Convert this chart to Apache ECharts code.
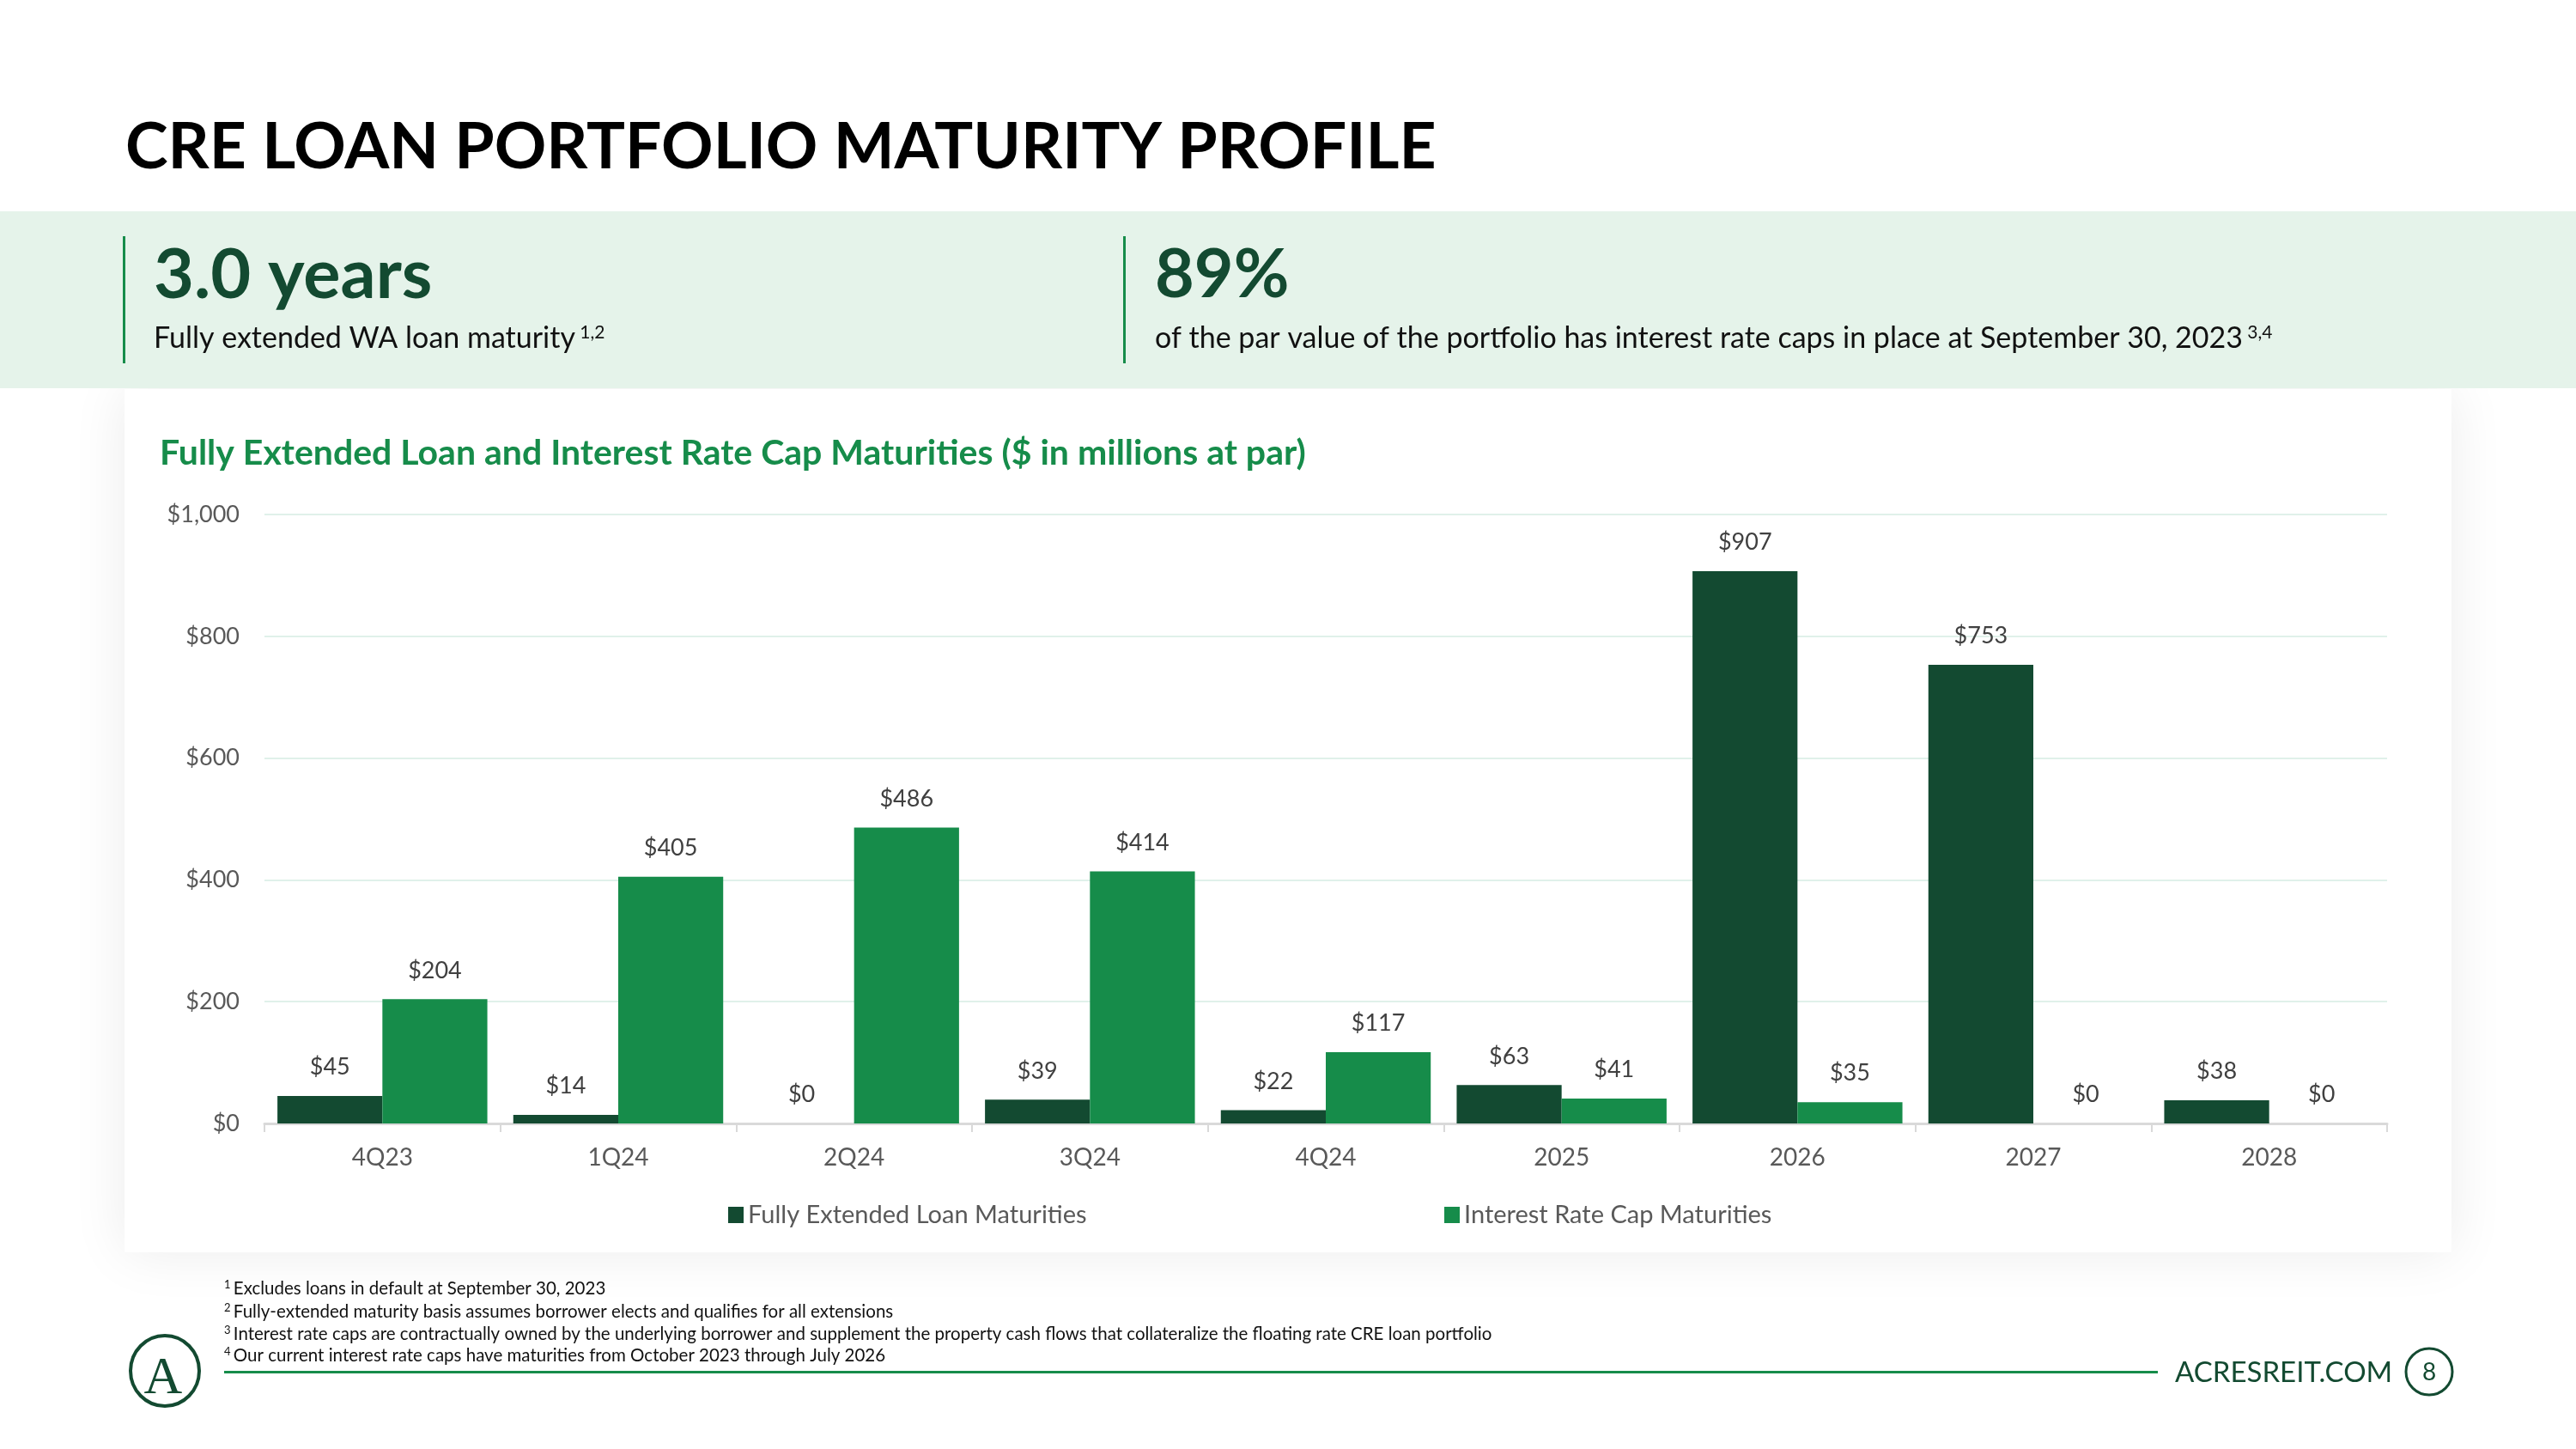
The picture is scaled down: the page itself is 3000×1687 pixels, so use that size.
<!DOCTYPE html>
<html>
<head>
<meta charset="utf-8">
<script src="https://cdn.jsdelivr.net/npm/echarts@6/dist/echarts.min.js"></script>
<style>
html, body { margin: 0; padding: 0; background: #ffffff; }
#bg-card { position: absolute; left: 145px; top: 453px; width: 2710px; height: 1005px; background: #ffffff; box-shadow: 0 0 60px rgba(0,0,0,0.08); }
#bg-band { position: absolute; left: 0; top: 246px; width: 3000px; height: 206px; background: #E5F3EA; }
#chart { position: absolute; left: 0; top: 0; width: 3000px; height: 1687px; }
</style>
</head>
<body>
<div id="bg-card"></div>
<div id="bg-band"></div>
<div id="chart"></div>
<script>
// ---- data ----
const categories = ['4Q23', '1Q24', '2Q24', '3Q24', '4Q24', '2025', '2026', '2027', '2028'];
const loanMaturities = [45, 14, 0, 39, 22, 63, 907, 753, 38];
const capMaturities = [204, 405, 486, 414, 117, 41, 35, 0, 0];
const seriesNames = ['Fully Extended Loan Maturities', 'Interest Rate Cap Maturities'];
const yMin = 0, yMax = 1000, yInterval = 200;

const pageTitle = 'CRE LOAN PORTFOLIO MATURITY PROFILE';
const chartTitle = 'Fully Extended Loan and Interest Rate Cap Maturities ($ in millions at par)';
const stat1Value = '3.0 years';
const stat1Text = 'Fully extended WA loan maturity';
const stat1Sup = '1,2';
const stat2Value = '89%';
const stat2Text = 'of the par value of the portfolio has interest rate caps in place at September 30, 2023';
const stat2Sup = '3,4';
const footnotes = [
  ['1', 'Excludes loans in default at September 30, 2023'],
  ['2', 'Fully-extended maturity basis assumes borrower elects and qualifies for all extensions'],
  ['3', 'Interest rate caps are contractually owned by the underlying borrower and supplement the property cash flows that collateralize the floating rate CRE loan portfolio'],
  ['4', 'Our current interest rate caps have maturities from October 2023 through July 2026']
];
const siteText = 'ACRESREIT.COM';
const pageNumber = '8';

// ---- styles ----
const DARK = '#134A31';
const GREEN = '#168C4A';
const FONT = 'Lato';

const chart = echarts.init(document.getElementById('chart'), null, { renderer: 'canvas' });

const graphics = [
  { type: 'text', x: 146, y: 172, style: { text: pageTitle, font: 'bold 75px Lato', fill: '#000000', verticalAlign: 'middle' } },
  { type: 'rect', shape: { x: 143, y: 275, width: 3, height: 148 }, style: { fill: GREEN } },
  { type: 'rect', shape: { x: 1308, y: 275, width: 3, height: 148 }, style: { fill: GREEN } },
  { type: 'text', x: 179, y: 321, style: { text: stat1Value, font: 'bold 81px Lato', fill: DARK, verticalAlign: 'middle' } },
  { type: 'text', x: 1345, y: 321, style: { text: stat2Value, font: 'bold 79px Lato', fill: DARK, verticalAlign: 'middle' } },
  { type: 'text', x: 179, y: 394, style: {
      text: '{a|' + stat1Text + '}{s| ' + stat1Sup + '}', verticalAlign: 'middle', fill: '#111111',
      rich: { a: { fontSize: 34, fontFamily: FONT, fill: '#111111' }, s: { fontSize: 21, fontFamily: FONT, fill: '#111111', verticalAlign: 'top' } } } },
  { type: 'text', x: 1345, y: 394, style: {
      text: '{a|' + stat2Text + '}{s| ' + stat2Sup + '}', verticalAlign: 'middle', fill: '#111111',
      rich: { a: { fontSize: 34, fontFamily: FONT, fill: '#111111' }, s: { fontSize: 21, fontFamily: FONT, fill: '#111111', verticalAlign: 'top' } } } },
  { type: 'text', x: 186, y: 528, style: { text: chartTitle, font: 'bold 41px Lato', fill: GREEN, verticalAlign: 'middle' } },
  { type: 'rect', shape: { x: 261, y: 1596, width: 2252, height: 3 }, style: { fill: GREEN } },
  { type: 'text', x: 2533, y: 1598, style: { text: siteText, font: '33px Lato', fill: DARK, verticalAlign: 'middle' } },
  { type: 'circle', shape: { cx: 2829, cy: 1597, r: 27 }, style: { fill: 'none', stroke: DARK, lineWidth: 3 } },
  { type: 'text', x: 2829, y: 1598, style: { text: pageNumber, font: '28px Lato', fill: DARK, align: 'center', verticalAlign: 'middle' } },
  { type: 'ellipse', shape: { cx: 192, cy: 1596, rx: 40, ry: 41 }, style: { fill: 'none', stroke: DARK, lineWidth: 4 } },
  { type: 'text', x: 190, y: 1606, style: { text: 'A', font: '62px "Liberation Serif"', fill: DARK, align: 'center', verticalAlign: 'middle' } }
];

const footY = [1500, 1527, 1553, 1578];
footnotes.forEach(function (f, i) {
  graphics.push({ type: 'text', x: 261, y: footY[i], style: {
    text: '{s|' + f[0] + ' }{a|' + f[1] + '}', verticalAlign: 'middle', fill: '#111111',
    rich: { s: { fontSize: 13, fontFamily: FONT, fill: '#111111', verticalAlign: 'top' }, a: { fontSize: 20.5, fontFamily: FONT, fill: '#111111' } } } });
});

const labelStyle = {
  show: true, position: 'top', distance: 20, fontSize: 27, fontFamily: FONT, color: '#404040',
  formatter: function (p) { return '$' + p.value; }
};

const option = {
  animation: false,
  backgroundColor: 'transparent',
  textStyle: { fontFamily: FONT },
  grid: { left: 308, top: 599, width: 2472, height: 709, containLabel: false },
  legend: [
    { data: [seriesNames[0]], left: 843, top: 1395, icon: 'rect', itemWidth: 18, itemHeight: 19, textStyle: { fontSize: 29, color: '#595959', fontFamily: FONT } },
    { data: [seriesNames[1]], left: 1677, top: 1395, icon: 'rect', itemWidth: 18, itemHeight: 19, textStyle: { fontSize: 29, color: '#595959', fontFamily: FONT } }
  ],
  xAxis: {
    type: 'category', data: categories, boundaryGap: true,
    axisLine: { lineStyle: { color: '#D9D9D9', width: 3 } },
    axisTick: { show: true, length: 10, lineStyle: { color: '#D9D9D9', width: 2 } },
    axisLabel: { fontSize: 28, color: '#595959', margin: 26, fontFamily: FONT }
  },
  yAxis: {
    type: 'value', min: yMin, max: yMax, interval: yInterval,
    axisLine: { show: false }, axisTick: { show: false },
    splitLine: { lineStyle: { color: '#E0F1EA', width: 2 } },
    axisLabel: { fontSize: 27, color: '#595959', margin: 29, fontFamily: FONT,
      formatter: function (v) { return '$' + v.toLocaleString('en-US'); } }
  },
  series: [
    { name: seriesNames[0], type: 'bar', data: loanMaturities, itemStyle: { color: DARK }, label: labelStyle, barGap: '0%', barCategoryGap: '11%' },
    { name: seriesNames[1], type: 'bar', data: capMaturities, itemStyle: { color: GREEN }, label: labelStyle, barGap: '0%', barCategoryGap: '11%' }
  ],
  graphic: { elements: graphics }
};
chart.setOption(option);
</script>
</body>
</html>
